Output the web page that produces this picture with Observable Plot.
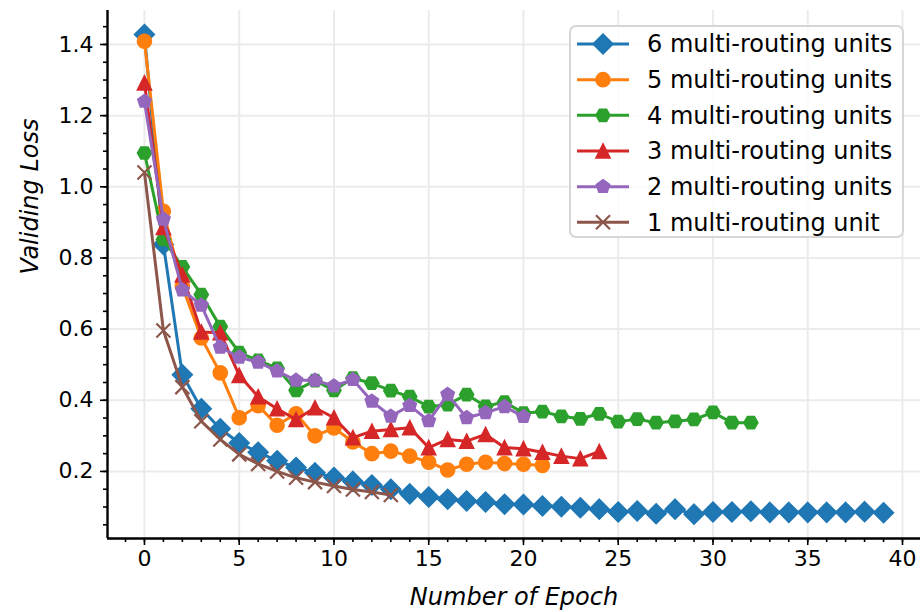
<!DOCTYPE html>
<html>
<head>
<meta charset="utf-8">
<script src="https://cdn.jsdelivr.net/npm/d3@7"></script>
<script src="https://cdn.jsdelivr.net/npm/@observablehq/plot@0.6"></script>
<style>
  body { margin: 0; background: #fff; }
  #wrap { position: relative; width: 920px; height: 612px; font-family: "DejaVu Sans", sans-serif; }
  #wrap > svg { position: absolute; left: 0; top: 0; }
  #legend { position: absolute; left: 569px; top: 25px; width: 335px; height: 213px;
            box-sizing: border-box; border: 2px solid #d6d6d6; border-radius: 7px;
            background: rgba(255,255,255,0.8); }
  #legend svg { position: absolute; left: -2px; top: -2px; }
</style>
</head>
<body>
<div id="wrap"></div>
<script>
// ---- data ----
const loss6 = [1.428, 0.838, 0.472, 0.376, 0.320, 0.280, 0.254, 0.230, 0.211, 0.196,
               0.183, 0.172, 0.162, 0.150, 0.137, 0.128, 0.122, 0.117, 0.114, 0.108,
               0.107, 0.103, 0.101, 0.098, 0.094, 0.086, 0.089, 0.081, 0.094, 0.080,
               0.086, 0.086, 0.088, 0.085, 0.085, 0.085, 0.085, 0.085, 0.087, 0.084];
const loss5 = [1.409, 0.931, 0.720, 0.575, 0.477, 0.351, 0.385, 0.330, 0.362, 0.300,
               0.322, 0.283, 0.250, 0.257, 0.243, 0.226, 0.204, 0.220, 0.226, 0.222,
               0.220, 0.217];
const loss4 = [1.095, 0.852, 0.775, 0.697, 0.607, 0.534, 0.512, 0.490, 0.428, 0.455,
               0.428, 0.462, 0.448, 0.427, 0.410, 0.382, 0.388, 0.416, 0.383, 0.395,
               0.364, 0.368, 0.355, 0.348, 0.362, 0.340, 0.347, 0.337, 0.341, 0.346,
               0.366, 0.337, 0.337];
const loss3 = [1.292, 0.886, 0.752, 0.592, 0.590, 0.470, 0.410, 0.376, 0.346, 0.379,
               0.351, 0.295, 0.313, 0.318, 0.323, 0.267, 0.290, 0.285, 0.304, 0.267,
               0.264, 0.254, 0.243, 0.236, 0.256];
const loss2 = [1.240, 0.909, 0.710, 0.667, 0.549, 0.521, 0.507, 0.482, 0.456, 0.456,
               0.440, 0.458, 0.397, 0.355, 0.385, 0.342, 0.416, 0.351, 0.365, 0.382,
               0.354];
const loss1 = [1.040, 0.596, 0.437, 0.341, 0.290, 0.248, 0.221, 0.200, 0.182, 0.170,
               0.159, 0.149, 0.142, 0.134];

const seriesNames = ["6 multi-routing units", "5 multi-routing units", "4 multi-routing units",
                     "3 multi-routing units", "2 multi-routing units", "1 multi-routing unit"];
const seriesColors = ["#1f77b4", "#ff7f0e", "#2ca02c", "#d62728", "#9467bd", "#8c564b"];

const xTicks = [0, 5, 10, 15, 20, 25, 30, 35, 40];
const xTickLabels = ["0", "5", "10", "15", "20", "25", "30", "35", "40"];
const yTicks = [0.2, 0.4, 0.6, 0.8, 1.0, 1.2, 1.4];
const yTickLabels = ["0.2", "0.4", "0.6", "0.8", "1.0", "1.2", "1.4"];
const xLabel = "Number of Epoch";
const yLabel = "Validing Loss";

// ---- scales / layout ----
const xDomain = [-1.95, 40.95];
const yDomain = [0.0115, 1.4955];
const xMinor = d3.range(-1, 41);
const yMinor = d3.range(1, 30).map(k => k * 0.05);

// ---- matplotlib-like marker shapes ----
const sz = s => Math.sqrt(s / Math.PI);
const symDiamond = { draw(c, s) { const h = sz(s) * 1.4142; c.moveTo(0, -h); c.lineTo(h, 0); c.lineTo(0, h); c.lineTo(-h, 0); c.closePath(); } };
const symCircle = { draw(c, s) { const r = sz(s); c.moveTo(r, 0); c.arc(0, 0, r, 0, 2 * Math.PI); c.closePath(); } };
const symHex = { draw(c, s) { const r = sz(s); for (let k = 0; k < 6; k++) { const a = k * Math.PI / 3; const px = r * Math.cos(a), py = r * Math.sin(a); k ? c.lineTo(px, py) : c.moveTo(px, py); } c.closePath(); } };
const symTri = { draw(c, s) { const r = sz(s); c.moveTo(0, -r); c.lineTo(r, r); c.lineTo(-r, r); c.closePath(); } };
const symPent = { draw(c, s) { const r = sz(s); for (let k = 0; k < 5; k++) { const a = -Math.PI / 2 + k * 2 * Math.PI / 5; const px = r * Math.cos(a), py = r * Math.sin(a); k ? c.lineTo(px, py) : c.moveTo(px, py); } c.closePath(); } };
const symX = { draw(c, s) { const r = sz(s); c.moveTo(-r, -r); c.lineTo(r, r); c.moveTo(-r, r); c.lineTo(r, -r); } };
const seriesSymbols = [symDiamond, symCircle, symHex, symTri, symPent, symX];
const seriesValues = [loss6, loss5, loss4, loss3, loss2, loss1];
const markerR = 7;

const xFmt = new Map(xTicks.map((t, i) => [t, xTickLabels[i]]));
const yFmt = new Map(yTicks.map((t, i) => [t, yTickLabels[i]]));

const seriesMarks = seriesValues.flatMap((vals, k) => {
  const data = vals.map((v, i) => ({ epoch: i, loss: v }));
  const isX = k === 5;
  return [
    Plot.line(data, { x: "epoch", y: "loss", stroke: seriesColors[k], strokeWidth: 3, strokeLinejoin: "round" }),
    Plot.dot(data, { x: "epoch", y: "loss", symbol: seriesSymbols[k], r: markerR,
                     fill: isX ? "none" : seriesColors[k], stroke: seriesColors[k], strokeWidth: isX ? 2.2 : 1.6 })
  ];
});

const chart = Plot.plot({
  width: 920, height: 612,
  marginLeft: 107, marginRight: 0, marginTop: 10, marginBottom: 74,
  style: { fontFamily: "DejaVu Sans, sans-serif", color: "#000", background: "transparent", overflow: "visible" },
  x: { domain: xDomain },
  y: { domain: yDomain },
  marks: [
    Plot.gridX(xTicks, { stroke: "#ebebeb", strokeOpacity: 1, strokeWidth: 2 }),
    Plot.gridY(yTicks, { stroke: "#ebebeb", strokeOpacity: 1, strokeWidth: 2 }),
    ...seriesMarks,
    Plot.axisX(xMinor, { anchor: "bottom", tickSize: 4, strokeWidth: 1.6, fill: "none", label: null }),
    Plot.axisY(yMinor, { anchor: "left", tickSize: 4, strokeWidth: 1.6, fill: "none", label: null }),
    Plot.axisX(xTicks, { anchor: "bottom", tickSize: 7, tickPadding: 5, strokeWidth: 1.6, fontSize: 22,
                         tickFormat: d => xFmt.get(d), label: null }),
    Plot.axisY(yTicks, { anchor: "left", tickSize: 7, tickPadding: 7, strokeWidth: 1.6, fontSize: 22,
                         tickFormat: d => yFmt.get(d), label: null }),
    Plot.ruleX([xDomain[0]], { stroke: "#000", strokeWidth: 2.4 }),
    Plot.ruleY([yDomain[0]], { stroke: "#000", strokeWidth: 2.4 }),
    Plot.text([xLabel], { frameAnchor: "bottom", dy: 66, text: d => d, fontSize: 24, fontStyle: "italic", fill: "#000" }),
    Plot.text([yLabel], { frameAnchor: "left", dx: -77, rotate: -90, text: d => d, fontSize: 24, fontStyle: "italic", fill: "#000" })
  ]
});

const wrap = document.getElementById("wrap");
wrap.appendChild(chart);

// ---- legend (inside the axes, upper right) ----
const leg = document.createElement("div");
leg.id = "legend";
wrap.appendChild(leg);
const lsvg = d3.select(leg).append("svg").attr("width", 335).attr("height", 213);
const rowY0 = 19, rowStep = 35.66;
seriesNames.forEach((name, k) => {
  const y = rowY0 + k * rowStep;
  const g = lsvg.append("g");
  g.append("line").attr("x1", 8).attr("x2", 60).attr("y1", y).attr("y2", y)
    .attr("stroke", seriesColors[k]).attr("stroke-width", 3);
  const isX = k === 5;
  g.append("path").attr("transform", `translate(34,${y})`)
    .attr("d", d3.symbol(seriesSymbols[k], markerR * markerR * Math.PI)())
    .attr("fill", isX ? "none" : seriesColors[k]).attr("stroke", seriesColors[k])
    .attr("stroke-width", isX ? 2.2 : 1.6);
  g.append("text").attr("x", 78).attr("y", y).attr("dy", "0.35em")
    .attr("font-size", 24).attr("font-family", "DejaVu Sans, sans-serif").attr("fill", "#000")
    .text(name);
});
</script>
</body>
</html>
